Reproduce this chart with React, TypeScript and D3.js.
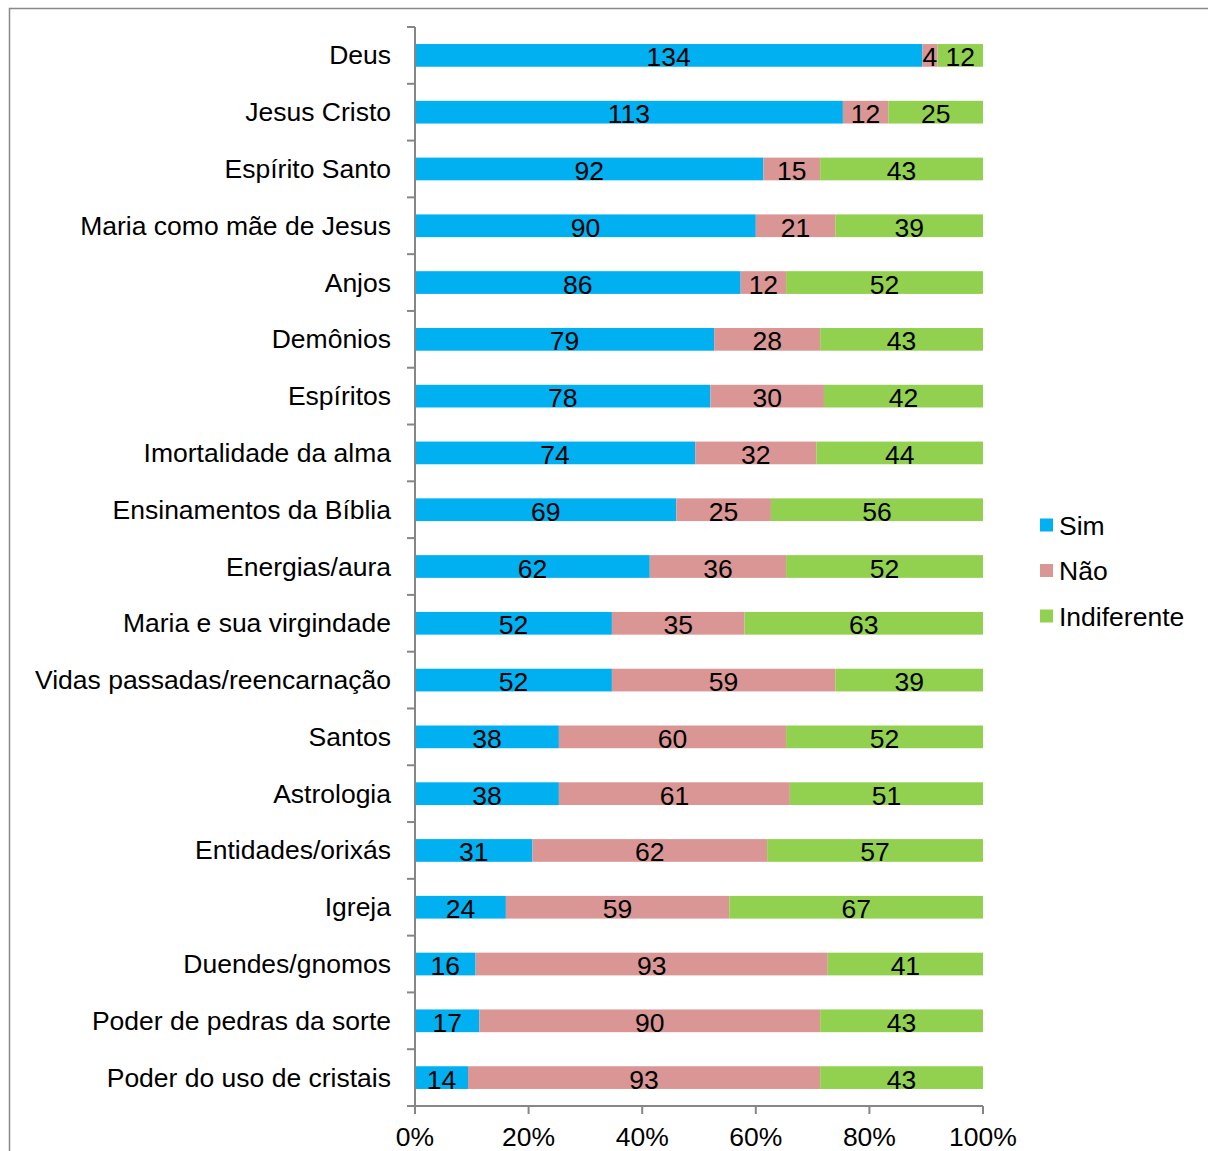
import React from "react";
import * as d3 from "d3";

const categories = [
  "Deus", "Jesus Cristo", "Espírito Santo", "Maria como mãe de Jesus", "Anjos",
  "Demônios", "Espíritos", "Imortalidade da alma", "Ensinamentos da Bíblia",
  "Energias/aura", "Maria e sua virgindade", "Vidas passadas/reencarnação",
  "Santos", "Astrologia", "Entidades/orixás", "Igreja", "Duendes/gnomos",
  "Poder de pedras da sorte", "Poder do uso de cristais",
];
const sim = [134, 113, 92, 90, 86, 79, 78, 74, 69, 62, 52, 52, 38, 38, 31, 24, 16, 17, 14];
const nao = [4, 12, 15, 21, 12, 28, 30, 32, 25, 36, 35, 59, 60, 61, 62, 59, 93, 90, 93];
const indiferente = [12, 25, 43, 39, 52, 43, 42, 44, 56, 52, 63, 39, 52, 51, 57, 67, 41, 43, 43];
const seriesNames = ["Sim", "Não", "Indiferente"];
const colors = ["#00B0F0", "#D99694", "#92D050"];
const xTicks = [0, 0.2, 0.4, 0.6, 0.8, 1];

export default function App() {
  const W = 1208, H = 1151;
  const left = 415, right = 983, top = 27, bottom = 1106;
  const x = d3.scaleLinear().domain([0, 1]).range([left, right]);
  const y = d3.scaleBand().domain(categories).range([top, bottom]).paddingInner(0.6).paddingOuter(0.3);
  const band = (bottom - top) / categories.length;
  const rows = categories.map((c, i) => ({ cat: c, Sim: sim[i], "Não": nao[i], Indiferente: indiferente[i] }));
  const stack = d3.stack<any>().keys(seriesNames).offset(d3.stackOffsetExpand);
  const layers = stack(rows);
  const font = "'Liberation Sans', Arial, sans-serif";
  const axisColor = "#868686";
  const fs = 26.5;
  return (
    <svg width={W} height={H} style={{ position: "absolute", left: 0, top: 0 }} fontFamily={font}>
      <rect x={0} y={0} width={W} height={H} fill="#fff" />
      <rect x={9.5} y={8.5} width={W + 20} height={H + 20} fill="none" stroke="#898989" strokeWidth={1.5} />
      {layers.map((layer, si) => (
        <g key={si}>
          {layer.map((d, i) => {
            const x0 = x(d[0]), x1 = x(d[1]);
            const yy = y(categories[i])!;
            const val = (rows[i] as any)[seriesNames[si]];
            return (
              <g key={i}>
                <rect x={x0} y={yy} width={x1 - x0} height={y.bandwidth()} fill={colors[si]} />
                <text x={(x0 + x1) / 2} y={yy + y.bandwidth() / 2 + 1.5} dy="0.36em" textAnchor="middle" fontSize={fs} fill="#000">{val}</text>
              </g>
            );
          })}
        </g>
      ))}
      {/* y axis */}
      <line x1={left} x2={left} y1={top} y2={bottom} stroke={axisColor} strokeWidth={2} />
      {d3.range(categories.length + 1).map((k) => (
        <line key={k} x1={left - 8} x2={left} y1={top + k * band} y2={top + k * band} stroke={axisColor} strokeWidth={2} />
      ))}
      {categories.map((c) => (
        <text key={c} x={391} y={y(c)! + y.bandwidth() / 2} dy="0.34em" textAnchor="end" fontSize={fs} fill="#000">{c}</text>
      ))}
      {/* x axis */}
      <line x1={left} x2={right} y1={bottom} y2={bottom} stroke={axisColor} strokeWidth={2} />
      {xTicks.map((t) => (
        <g key={t}>
          <line x1={x(t)} x2={x(t)} y1={bottom} y2={bottom + 8} stroke={axisColor} strokeWidth={2} />
          <text x={x(t)} y={1146} textAnchor="middle" fontSize={fs} fill="#000">{d3.format(".0%")(t)}</text>
        </g>
      ))}
      {/* legend */}
      {seriesNames.map((s, i) => (
        <g key={s} transform={`translate(1040, ${525 + i * 45.5})`}>
          <rect x={0} y={-6.5} width={13} height={13} fill={colors[i]} />
          <text x={19} y={0} dy="0.36em" fontSize={fs} fill="#000">{s}</text>
        </g>
      ))}
    </svg>
  );
}
